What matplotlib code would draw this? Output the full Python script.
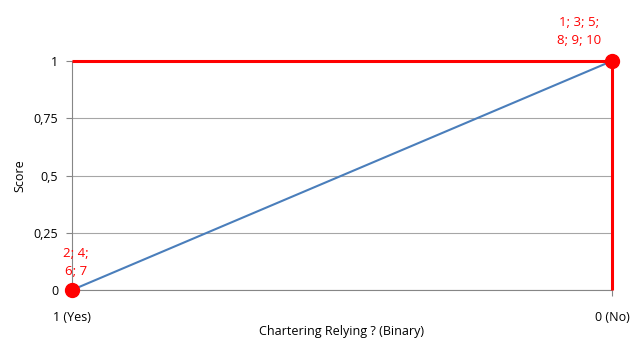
import matplotlib.pyplot as plt

plt.rcParams['font.family'] = ['Open Sans', 'DejaVu Sans']

categories = ['1 (Yes)', '0 (No)']
score = [0, 1]
point_labels = ['2; 4;\n6; 7', '1; 3; 5;\n8; 9; 10']
# red reference path: top edge then drop to zero at the last category
ref_x = [0, 1, 1]
ref_y = [1, 1, 0]
yticks = [0, 0.25, 0.5, 0.75, 1]
ytick_labels = ['0', '0,25', '0,5', '0,75', '1']

fig = plt.figure(figsize=(6.33, 3.38), dpi=100)
ax = fig.add_axes([0.1137, 0.142, 0.853, 0.6775])

x = list(range(len(categories)))
ax.plot(ref_x, ref_y, color='#ff0000', linewidth=2.2, solid_capstyle='butt', zorder=3, clip_on=False)
ax.plot(x, score, color='#4a7ebb', linewidth=1.5, zorder=4, clip_on=False)
ax.plot(x, score, 'o', color='#ff0000', markersize=10, zorder=5, clip_on=False)

ax.annotate(point_labels[0], (x[0], score[0]), xytext=(3, 9), textcoords='offset points',
            ha='center', va='bottom', color='#ff0000', fontsize=9.5, linespacing=1.5)
ax.annotate(point_labels[1], (x[1], score[1]), xytext=(-24, 10), textcoords='offset points',
            ha='center', va='bottom', color='#ff0000', fontsize=9.5, linespacing=1.5)

ax.set_xlim(0, 1)
ax.set_ylim(0, 1)
ax.set_xticks(x)
ax.set_xticklabels(categories, fontsize=9)
ax.set_yticks(yticks)
ax.set_yticklabels(ytick_labels, fontsize=9)
ax.yaxis.grid(True, color='#a6a6a6', linewidth=0.8)
ax.set_axisbelow(True)

for side in ['top', 'right']:
    ax.spines[side].set_visible(False)
for side in ['left', 'bottom']:
    ax.spines[side].set_color('#868686')
ax.tick_params(axis='y', length=4, color='#868686', pad=6)
ax.tick_params(axis='x', length=4, color='#868686', pad=11)

ax.set_xlabel('Chartering Relying ? (Binary)', fontsize=9, labelpad=1)
ax.set_ylabel('Score', fontsize=9, labelpad=5)

fig.savefig('out.png', dpi=100)
